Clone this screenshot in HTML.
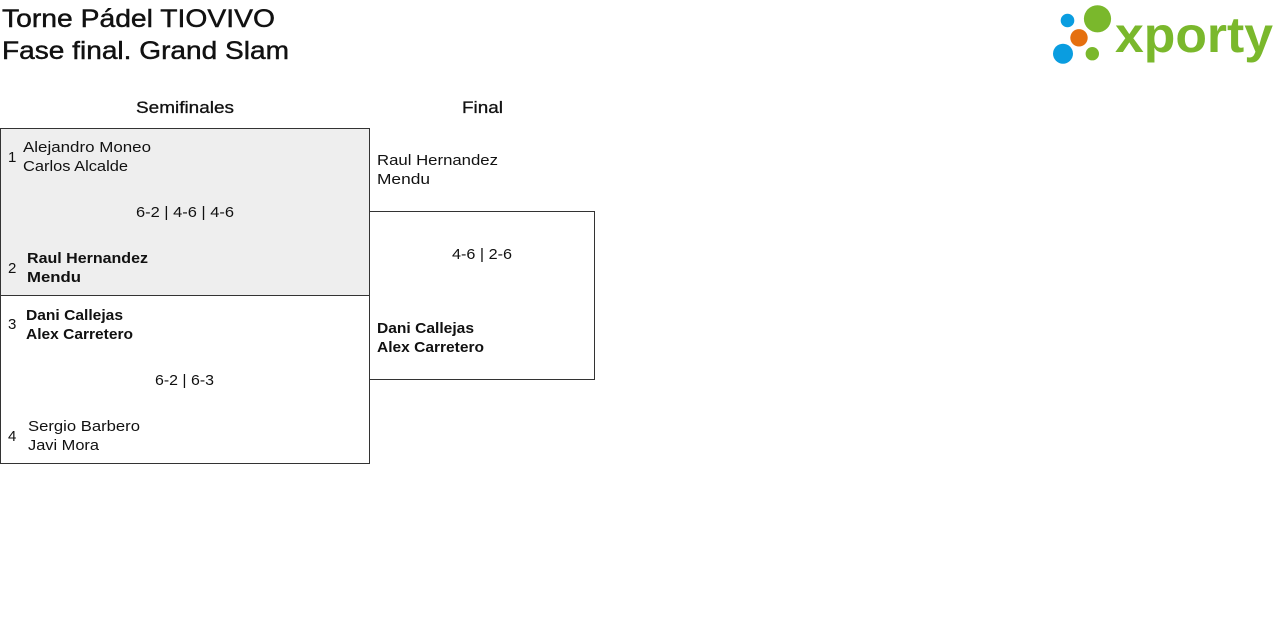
<!DOCTYPE html>
<html><head><meta charset="utf-8"><style>
html,body{margin:0;padding:0;background:#fff;width:1280px;height:628px;overflow:hidden}
svg{display:block}
text{font-family:"Liberation Sans",sans-serif;fill:#111}
.b{font-weight:bold}
.m{stroke:#111;stroke-width:0.45}
</style></head><body>
<svg width="1280" height="628" viewBox="0 0 1280 628" xmlns="http://www.w3.org/2000/svg">
<!-- title -->
<text class="m" x="2" y="27" font-size="25" textLength="273" lengthAdjust="spacingAndGlyphs">Torne Pádel TIOVIVO</text>
<text class="m" x="2" y="59" font-size="25" textLength="287" lengthAdjust="spacingAndGlyphs">Fase final. Grand Slam</text>
<!-- logo -->
<circle cx="1067.5" cy="20.5" r="6.8" fill="#0a9de0"/>
<circle cx="1097.5" cy="18.8" r="13.6" fill="#7ab82c"/>
<circle cx="1079" cy="37.8" r="8.7" fill="#e5700f"/>
<circle cx="1063" cy="53.7" r="10" fill="#0a9de0"/>
<circle cx="1092.3" cy="53.7" r="6.7" fill="#7ab82c"/>
<text x="1115" y="52" font-size="50" font-weight="bold" style="fill:#7ab82c" textLength="158" lengthAdjust="spacingAndGlyphs">xporty</text>
<!-- headers -->
<text class="m" x="136" y="113" font-size="17" textLength="98" lengthAdjust="spacingAndGlyphs" style="stroke-width:0.3">Semifinales</text>
<text class="m" x="462" y="113" font-size="17" textLength="41" lengthAdjust="spacingAndGlyphs" style="stroke-width:0.3">Final</text>
<!-- semifinal boxes -->
<rect x="0.5" y="128.5" width="369" height="167" fill="#eeeeee" stroke="#333" stroke-width="1"/>
<rect x="0.5" y="295.5" width="369" height="168" fill="#fff" stroke="#333" stroke-width="1"/>
<!-- final box -->
<rect x="369.5" y="211.5" width="225" height="168" fill="none" stroke="#333" stroke-width="1"/>
<!-- match 1 -->
<text x="8" y="162" font-size="15">1</text>
<text x="23" y="152" font-size="15" textLength="128" lengthAdjust="spacingAndGlyphs">Alejandro Moneo</text>
<text x="23" y="171" font-size="15" textLength="105" lengthAdjust="spacingAndGlyphs">Carlos Alcalde</text>
<text x="136" y="217" font-size="15" textLength="98" lengthAdjust="spacingAndGlyphs">6-2 | 4-6 | 4-6</text>
<text x="8" y="273" font-size="15">2</text>
<text class="b" x="27" y="263" font-size="15" textLength="121" lengthAdjust="spacingAndGlyphs">Raul Hernandez</text>
<text class="b" x="27" y="282" font-size="15" textLength="54" lengthAdjust="spacingAndGlyphs">Mendu</text>
<!-- match 2 -->
<text x="8" y="329" font-size="15">3</text>
<text class="b" x="26" y="320" font-size="15" textLength="97" lengthAdjust="spacingAndGlyphs">Dani Callejas</text>
<text class="b" x="26" y="339" font-size="15" textLength="107" lengthAdjust="spacingAndGlyphs">Alex Carretero</text>
<text x="155" y="385" font-size="15" textLength="59" lengthAdjust="spacingAndGlyphs">6-2 | 6-3</text>
<text x="8" y="441" font-size="15">4</text>
<text x="28" y="431" font-size="15" textLength="112" lengthAdjust="spacingAndGlyphs">Sergio Barbero</text>
<text x="28" y="450" font-size="15" textLength="71" lengthAdjust="spacingAndGlyphs">Javi Mora</text>
<!-- final -->
<text x="377" y="165" font-size="15" textLength="121" lengthAdjust="spacingAndGlyphs">Raul Hernandez</text>
<text x="377" y="184" font-size="15" textLength="53" lengthAdjust="spacingAndGlyphs">Mendu</text>
<text x="452" y="259" font-size="15" textLength="60" lengthAdjust="spacingAndGlyphs">4-6 | 2-6</text>
<text class="b" x="377" y="333" font-size="15" textLength="97" lengthAdjust="spacingAndGlyphs">Dani Callejas</text>
<text class="b" x="377" y="352" font-size="15" textLength="107" lengthAdjust="spacingAndGlyphs">Alex Carretero</text>
</svg>
</body></html>
